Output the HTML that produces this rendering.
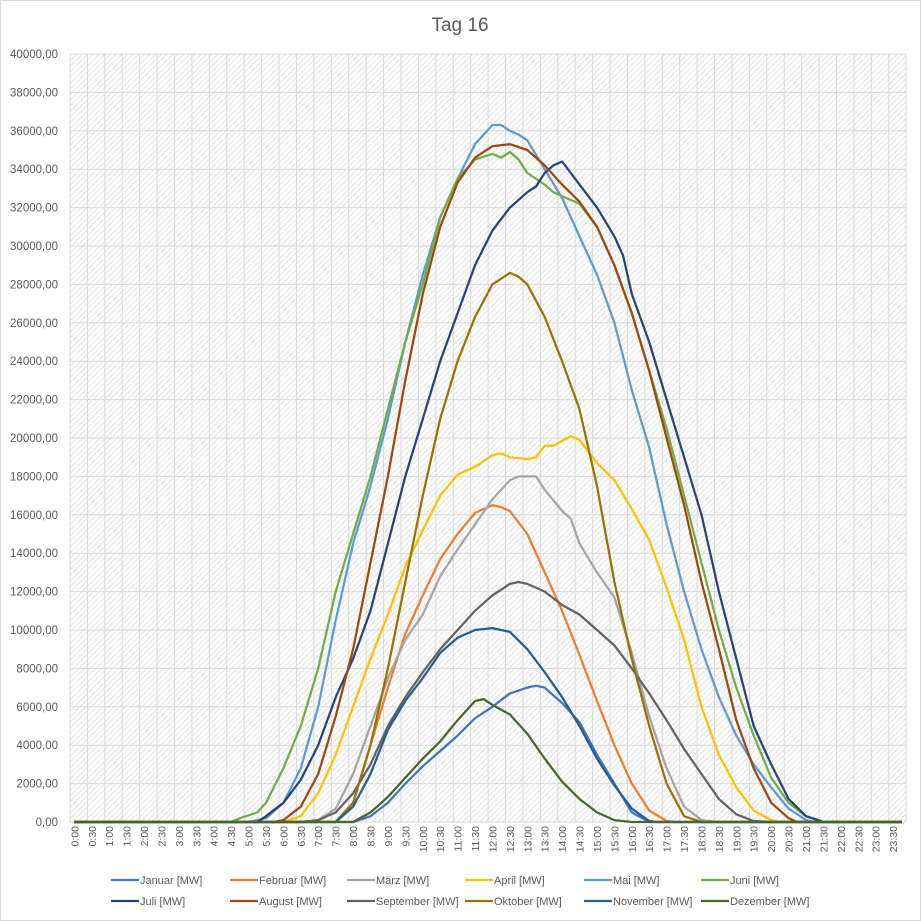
<!DOCTYPE html>
<html><head><meta charset="utf-8"><style>
html,body{margin:0;padding:0;background:#fff;}
svg{display:block;font-family:"Liberation Sans",sans-serif;}
</style></head><body>
<svg id="s" width="921" height="921" xmlns="http://www.w3.org/2000/svg">
<defs>
<pattern id="h" width="4" height="4" patternUnits="userSpaceOnUse" patternTransform="rotate(45)">
<rect width="4" height="4" fill="#fff"/>
<line x1="0" y1="0" x2="0" y2="4" stroke="#d8d8d8" stroke-width="1.5"/>
</pattern>
</defs>
<rect x="0.5" y="0.5" width="920" height="920" fill="#fff" stroke="#d9d9d9"/>
<text x="460" y="31" text-anchor="middle" font-size="19" fill="#595959">Tag 16</text>
<rect x="70" y="54" width="836" height="768" fill="url(#h)"/>
<g id="g"></g>
</svg>
<script>
const s=document.getElementById('g');const NS='http://www.w3.org/2000/svg';
function el(t,a,txt){const e=document.createElementNS(NS,t);for(const k in a)e.setAttribute(k,a[k]);if(txt!==undefined)e.textContent=txt;s.appendChild(e);return e;}
const X=t=>70+(t*4+0.5)*8.71, Y=v=>822-v/40*768;
for(let i=0;i<=20;i++){el('line',{x1:70,x2:906,y1:Y(i*2),y2:Y(i*2),stroke:'#d9d9d9','stroke-width':1});
el('text',{x:58,y:Y(i*2)+4,'text-anchor':'end','font-size':11.5,fill:'#595959'},(i*2000)+',00');}
for(let i=0;i<=48;i++){const x=70+i*17.42;el('line',{x1:x,x2:x,y1:54,y2:822,stroke:'#d9d9d9','stroke-width':1});}
for(let i=0;i<48;i++){const t=i/2;const x=X(t);const lab=Math.floor(t)+':'+(i%2?'30':'00');
el('text',{x:0,y:0,transform:`translate(${x+4},826) rotate(-90)`,'text-anchor':'end','font-size':10.5,fill:'#595959'},lab);}
function p(s){return s.split(',').map(q=>{const [a,b]=q.trim().split(' ');const [h,m]=a.split(':');return [ +h + +m/60, +b];});}
const S=[
['Januar [MW]','#4472c4','8:00 0,8:30 0.3,9:00 1.0,9:30 2.0,10:00 2.9,10:30 3.7,11:00 4.5,11:30 5.4,12:00 6.0,12:30 6.7,13:00 7.0,13:15 7.1,13:30 7.0,14:00 6.2,14:30 5.2,15:00 3.5,15:30 2.0,16:00 0.5,16:30 0'],
['Februar [MW]','#ed7d31','7:30 0,8:00 1.0,8:30 4.0,9:00 7.0,9:30 9.8,10:00 11.8,10:30 13.7,11:00 15.0,11:30 16.1,12:00 16.5,12:15 16.4,12:30 16.2,13:00 15.0,13:30 13.0,14:00 11.0,14:30 8.7,15:00 6.3,15:30 4.0,16:00 2.0,16:30 0.6,17:00 0.05,17:15 0'],
['März [MW]','#a5a5a5','6:30 0,7:00 0.1,7:30 0.7,8:00 2.5,8:30 5.0,9:00 7.5,9:30 9.5,10:00 10.8,10:30 12.8,11:00 14.2,11:30 15.5,12:00 16.8,12:30 17.8,12:45 18.0,13:15 18.0,13:30 17.3,14:00 16.2,14:15 15.8,14:30 14.5,15:00 13.0,15:30 11.7,16:00 8.8,16:30 5.5,17:00 2.8,17:30 0.8,18:00 0.1,18:30 0'],
['April [MW]','#ffc000','6:00 0,6:30 0.3,7:00 1.5,7:30 3.5,8:00 6.0,8:30 8.5,9:00 10.8,9:30 13.3,10:00 15.2,10:30 17.0,11:00 18.1,11:30 18.5,12:00 19.1,12:15 19.2,12:30 19.0,13:00 18.9,13:15 19.0,13:30 19.6,13:45 19.6,14:15 20.1,14:30 19.9,15:00 18.7,15:30 17.8,16:00 16.3,16:30 14.7,17:00 12.2,17:30 9.5,18:00 6.0,18:30 3.5,19:00 1.8,19:30 0.6,20:00 0.1,20:15 0'],
['Mai [MW]','#5b9bd5','5:00 0,5:30 0.2,6:00 1.0,6:30 2.8,7:00 6.0,7:30 10.5,8:00 14.5,8:30 17.5,9:00 21.0,9:30 25.0,10:00 28.5,10:30 31.5,11:00 33.5,11:30 35.3,12:00 36.3,12:15 36.3,12:30 36.0,12:45 35.8,13:00 35.5,13:30 34.0,14:00 32.5,14:30 30.5,15:00 28.5,15:30 26.0,16:00 22.5,16:30 19.5,17:00 15.5,17:30 12.0,18:00 9.0,18:30 6.5,19:00 4.5,19:30 3.0,20:00 1.8,20:30 0.7,21:00 0.1,21:15 0'],
['Juni [MW]','#70ad47','4:30 0,4:45 0.2,5:00 0.35,5:15 0.5,5:30 1.0,6:00 2.8,6:30 5.0,7:00 8.0,7:30 12.0,8:00 15.0,8:30 18.0,9:00 21.5,9:30 25.0,10:00 28.0,10:30 31.5,11:00 33.5,11:30 34.5,12:00 34.8,12:15 34.6,12:30 34.9,12:45 34.5,13:00 33.8,13:30 33.2,13:45 32.8,14:00 32.6,14:30 32.2,15:00 31.0,15:30 29.0,16:00 26.5,16:30 23.5,17:00 20.5,17:30 17.0,18:00 13.5,18:30 10.0,19:00 7.0,19:30 4.5,20:00 2.3,20:30 1.0,21:00 0.3,21:30 0'],
['Juli [MW]','#264478','5:15 0,5:30 0.3,6:00 1.0,6:30 2.2,7:00 4.0,7:30 6.5,8:00 8.5,8:30 11.0,9:00 14.5,9:30 18.0,10:00 21.0,10:30 24.0,11:00 26.5,11:30 29.0,12:00 30.8,12:30 32.0,13:00 32.8,13:15 33.1,13:30 33.8,13:45 34.2,14:00 34.4,14:15 33.8,14:30 33.2,15:00 32.0,15:30 30.5,15:45 29.5,16:00 27.5,16:30 25.0,17:00 22.0,17:30 19.0,18:00 16.0,18:30 12.0,19:00 8.5,19:30 5.0,20:00 3.0,20:30 1.2,21:00 0.3,21:30 0'],
['August [MW]','#9e480e','5:45 0,6:00 0.1,6:30 0.8,7:00 2.5,7:30 5.5,8:00 9.0,8:30 13.5,9:00 18.0,9:30 23.0,10:00 27.5,10:30 31.0,11:00 33.3,11:30 34.6,12:00 35.2,12:30 35.3,13:00 35.0,13:30 34.2,14:00 33.2,14:30 32.3,15:00 31.0,15:30 29.0,16:00 26.5,16:30 23.5,17:00 20.0,17:30 16.5,18:00 12.5,18:30 9.0,19:00 5.3,19:30 2.8,20:00 1.0,20:30 0.2,20:45 0'],
['September [MW]','#636363','6:30 0,7:00 0.1,7:30 0.5,8:00 1.5,8:30 3.0,9:00 5.0,9:30 6.5,10:00 7.8,10:30 9.0,11:00 10.0,11:30 11.0,12:00 11.8,12:30 12.4,12:45 12.5,13:00 12.4,13:30 12.0,14:00 11.3,14:30 10.8,15:00 10.0,15:30 9.2,16:00 8.0,16:30 6.7,17:00 5.3,17:30 3.8,18:00 2.5,18:30 1.2,19:00 0.4,19:30 0.05,20:00 0'],
['Oktober [MW]','#997300','7:30 0,8:00 1.0,8:30 4.0,9:00 8.0,9:30 12.5,10:00 17.0,10:30 21.0,11:00 24.0,11:30 26.3,12:00 28.0,12:30 28.6,12:45 28.4,13:00 28.0,13:30 26.3,14:00 24.0,14:30 21.5,15:00 17.5,15:30 12.5,16:00 8.5,16:30 5.0,17:00 2.0,17:30 0.3,18:00 0'],
['November [MW]','#255e91','7:30 0,8:00 0.8,8:30 2.5,9:00 4.8,9:30 6.3,10:00 7.5,10:30 8.8,11:00 9.6,11:30 10.0,12:00 10.1,12:30 9.9,13:00 9.0,13:30 7.8,14:00 6.5,14:30 5.0,15:00 3.3,15:30 1.9,16:00 0.7,16:30 0.05,16:45 0'],
['Dezember [MW]','#43682b','8:00 0,8:30 0.5,9:00 1.3,9:30 2.3,10:00 3.3,10:30 4.2,11:00 5.3,11:30 6.3,11:45 6.4,12:00 6.1,12:30 5.6,13:00 4.6,13:30 3.3,14:00 2.1,14:30 1.2,15:00 0.5,15:30 0.1,16:00 0']];
S.forEach(([n,c,d])=>{const pts=p(d);const all=[[0,0],...pts,[23.75,0]];
el('polyline',{points:all.map(q=>X(q[0]).toFixed(1)+','+Y(q[1]).toFixed(1)).join(' '),fill:'none',stroke:c,'stroke-width':2.25,'stroke-linejoin':'round'});});
const cols=[111,230,347,465,584,701];
S.forEach(([n,c],i)=>{const x=cols[i%6],y=i<6?880:901;
el('line',{x1:x,x2:x+28,y1:y,y2:y,stroke:c,'stroke-width':2.25});
el('text',{x:x+29,y:y+4,'font-size':11,fill:'#595959'},n);});
</script>
</body></html>
